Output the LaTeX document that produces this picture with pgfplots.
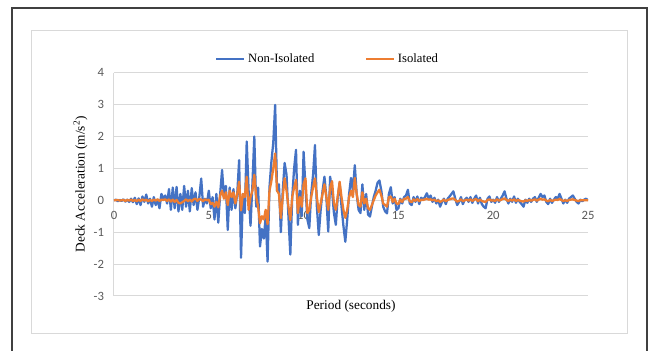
\documentclass[border=0pt]{standalone}
\usepackage{pgfplots}
\usepackage{pgfplotstable}
\pgfplotsset{compat=1.18}
\usepackage{fontspec}
\setmainfont{Liberation Serif}
\newfontfamily\calibri{Carlito}
\definecolor{nblue}{HTML}{4472C4}
\definecolor{iorange}{HTML}{ED7D31}
\definecolor{gridc}{HTML}{D9D9D9}
\definecolor{tickc}{HTML}{595959}
\definecolor{framec}{HTML}{404040}

\pgfplotstableread{
t N I
0.0 0 0
0.1 0.02 0
0.2 -0.03 0.01
0.3 0.01 -0.01
0.4 -0.02 0
0.5 0.03 0.01
0.6 -0.04 -0.02
0.7 0.02 0.01
0.8 -0.05 -0.01
0.9 0.05 0.02
1.0 -0.06 -0.02
1.1 0.08 0.01
1.2 -0.12 -0.03
1.3 0.06 0.02
1.4 -0.15 -0.02
1.5 0.12 0.03
1.6 -0.05 -0.01
1.7 0.18 0.02
1.8 -0.1 -0.03
1.9 0.05 0.01
2.0 -0.2 -0.02
2.1 0.1 0.02
2.2 -0.15 -0.01
2.3 0.02 0.03
2.4 -0.25 -0.02
2.5 0.2 0.02
2.6 0.05 0.01
2.7 0.15 0.03
2.8 -0.1 -0.02
2.9 0.35 0.03
3.0 -0.3 -0.04
3.1 0.4 0.02
3.2 -0.25 -0.05
3.3 0.42 0.01
3.4 -0.35 -0.08
3.5 0.2 -0.1
3.6 -0.3 -0.06
3.7 0.45 -0.02
3.8 -0.2 0.03
3.9 0.3 -0.03
4.0 -0.35 0.02
4.1 0.38 -0.04
4.2 -0.15 0.03
4.3 0.25 0.05
4.4 -0.3 -0.02
4.5 0.1 0.04
4.6 0.68 0.02
4.7 -0.2 -0.03
4.8 0.05 0.03
4.9 -0.1 0
5.0 0.3 0.02
5.1 -0.25 -0.12
5.2 0.1 -0.08
5.3 -0.6 -0.2
5.4 0.2 -0.05
5.5 -0.7 -0.22
5.6 0.2 0.15
5.7 0.95 0.3
5.8 0.1 0.05
5.9 0.45 0.25
6.0 -0.93 -0.15
6.1 0.4 0.3
6.2 -0.3 0.1
6.3 0.35 0.25
6.4 -0.25 -0.1
6.5 0.2 0.2
6.6 1.26 0.58
6.7 -1.8 -0.32
6.8 0.2 0.2
6.9 -0.4 0.1
7.0 1.84 0.74
7.1 0.3 -0.3
7.2 -0.8 0.1
7.3 0.5 0.3
7.4 2.0 0.8
7.5 -0.2 0.1
7.6 0.4 -0.2
7.7 -1.45 -0.72
7.8 -0.9 -0.5
7.9 -1.2 -0.6
8.0 -0.5 -0.3
8.1 -1.92 -0.75
8.2 0.4 0.3
8.3 1.2 0.6
8.4 1.8 1.0
8.5 2.99 1.47
8.6 0.3 0.3
8.7 0.5 0.2
8.8 -1.0 -0.56
8.9 0.3 0.1
9.0 1.17 0.69
9.1 0.8 0.3
9.2 -0.5 -0.2
9.3 -1.7 -0.62
9.4 0.1 0.1
9.5 1.0 0.4
9.6 1.58 0.64
9.7 -0.77 -0.4
9.8 0.3 0.1
9.9 -0.5 -0.2
10.0 1.52 0.5
10.1 0.4 0.69
10.2 -0.6 -0.4
10.3 -0.87 -0.3
10.4 0.2 0.1
10.5 0.8 0.4
10.6 1.73 0.69
10.7 -0.2 0.1
10.8 -1.09 -0.37
10.9 -0.3 -0.1
11.0 0.3 0.2
11.1 0.74 0.5
11.2 0.1 0.1
11.3 -0.98 -0.3
11.4 0.74 0.4
11.5 0.3 0.6
11.6 -0.4 -0.1
11.7 -0.77 -0.3
11.8 0.1 0.1
11.9 0.54 0.58
12.0 -0.2 0.1
12.1 -0.8 -0.3
12.2 -1.3 -0.55
12.3 -0.6 -0.3
12.4 0.2 0.1
12.5 0.7 0.3
12.6 0.3 0.1
12.7 1.1 0.7
12.8 0.2 0.2
12.9 -0.3 -0.15
13.0 -0.4 -0.2
13.1 0.5 0.25
13.2 -0.3 -0.1
13.3 0.2 0.05
13.4 -0.45 -0.25
13.5 -0.51 -0.3
13.6 -0.2 -0.15
13.7 0.1 0
13.8 0.3 0.15
13.9 0.55 0.25
14.0 0.62 0.33
14.1 0.3 0.15
14.2 -0.2 -0.1
14.3 -0.35 -0.15
14.4 -0.41 -0.2
14.5 0.2 0.1
14.6 0.41 0.12
14.7 -0.1 -0.05
14.8 0.1 0.05
14.9 -0.3 -0.1
15.0 -0.25 -0.12
15.1 0.05 0.02
15.2 -0.1 -0.05
15.3 0.1 0.05
15.4 0.15 0.05
15.5 0.33 0.1
15.6 -0.1 -0.03
15.7 -0.15 -0.06
15.8 0.1 0.03
15.9 -0.05 -0.02
16.0 0.12 0.04
16.1 -0.12 -0.03
16.2 0.08 0.02
16.3 0.02 0.01
16.4 0.1 0.03
16.5 0.22 0.05
16.6 0.05 0.02
16.7 0.15 0.03
16.8 -0.05 0
16.9 0.08 0.02
17.0 -0.1 -0.03
17.1 0.02 0
17.2 -0.2 -0.05
17.3 -0.05 -0.02
17.4 0.05 0.02
17.5 -0.12 -0.03
17.6 0.05 0.01
17.7 0.12 0.03
17.8 0.2 0.05
17.9 0.28 0.06
18.0 0.05 0.01
18.1 -0.15 -0.04
18.2 -0.05 -0.02
18.3 0.1 0.03
18.4 -0.12 -0.03
18.5 0.02 0
18.6 0.08 0.02
18.7 -0.05 -0.01
18.8 0.1 0.03
18.9 -0.08 -0.02
19.0 0.05 0.02
19.1 0.15 0.04
19.2 -0.1 -0.03
19.3 0.08 0.02
19.4 -0.12 -0.02
19.5 -0.2 -0.04
19.6 -0.25 -0.05
19.7 0.05 0.01
19.8 0.12 0.03
19.9 -0.05 -0.01
20.0 0.02 0
20.1 -0.08 -0.02
20.2 0.1 0.03
20.3 -0.05 -0.01
20.4 0.05 0.01
20.5 0.15 0.04
20.6 0.28 0.06
20.7 0.05 0.01
20.8 -0.1 -0.02
20.9 0.05 0.02
21.0 -0.05 -0.01
21.1 0.12 0.03
21.2 -0.08 -0.02
21.3 0.05 0.01
21.4 -0.05 -0.01
21.5 -0.12 -0.03
21.6 -0.2 -0.04
21.7 0.02 0
21.8 -0.08 -0.02
21.9 0.05 0.01
22.0 -0.05 -0.01
22.1 0.05 0.01
22.2 0.1 0.03
22.3 -0.05 -0.01
22.4 0.08 0.02
22.5 0.2 0.05
22.6 0.1 0.02
22.7 0.15 0.03
22.8 -0.05 -0.01
22.9 -0.12 -0.03
23.0 0.05 0.01
23.1 -0.08 -0.02
23.2 0.02 0
23.3 0.1 0.02
23.4 0.05 0.01
23.5 0.2 0.04
23.6 0.05 0.01
23.7 -0.1 -0.02
23.8 0.02 0
23.9 -0.08 -0.02
24.0 0.05 0.01
24.1 0.1 0.02
24.2 0.15 0.03
24.3 0.05 0.01
24.4 -0.05 -0.01
24.5 -0.1 -0.02
24.6 0.02 0
24.7 -0.03 0
24.8 0.02 0
24.9 0.05 0
25.0 0.0 0
}\datatable

\begin{document}
\begin{tikzpicture}
\begin{scope}[x=0.75pt,y=-0.75pt]
\fill[white] (0,0) rectangle (654,351);
\draw[framec,line width=1.1pt] (12,351) -- (12,8) -- (647,8) -- (647,351);
\draw[gridc,line width=0.75pt] (31,31) rectangle (627,334);
\end{scope}
\begin{axis}[
  at={(85.5pt,-222pt)}, anchor=south west,
  scale only axis, width=355.5pt, height=167.5pt,
  xmin=0, xmax=25, ymin=-3, ymax=4,
  xtick={0,5,10,15,20,25}, ytick={-3,-2,-1,0,1,2,3,4},
  axis x line=middle, axis y line=left,
  axis line style={draw=gridc, line width=0.75pt, -},
  hide obscured x ticks=false, hide obscured y ticks=false,
  major tick length=0pt,
  ymajorgrids, grid style={draw=gridc, line width=0.75pt},
  tick label style={font=\calibri\fontsize{9.5}{11}\selectfont, text=tickc},
  /pgf/number format/assume math mode=true,
  xticklabel style={anchor=north, yshift=-4.5pt},
  yticklabel style={anchor=east, xshift=-4pt},
  xlabel={Period (seconds)},
  ylabel={Deck Acceleration (m/s\textsuperscript{2})},
  every axis x label/.style={at={(axis description cs:0.5,-0.045)}, anchor=center, font=\fontsize{10}{12}\selectfont, text=black},
  every axis y label/.style={at={(axis description cs:-0.0707,0.5)}, anchor=center, rotate=90, font=\fontsize{10}{12}\selectfont, text=black},
  legend columns=2,
  legend style={at={(0.4515,1.061)}, anchor=center, draw=none, fill=none,
    font=\fontsize{9.5}{11}\selectfont, inner sep=0pt,
    /tikz/every even column/.append style={column sep=36pt}},
  legend cell align=left,
  legend image code/.code={\draw[#1] (0pt,0pt) -- (21pt,0pt);},
  line join=round,
]
\addplot[nblue, line width=1.7pt] table[x=t,y=N] {\datatable};
\addlegendentry{Non-Isolated}
\addplot[iorange, line width=1.7pt] table[x=t,y=I] {\datatable};
\addlegendentry{Isolated}
\end{axis}
\end{tikzpicture}
\end{document}
